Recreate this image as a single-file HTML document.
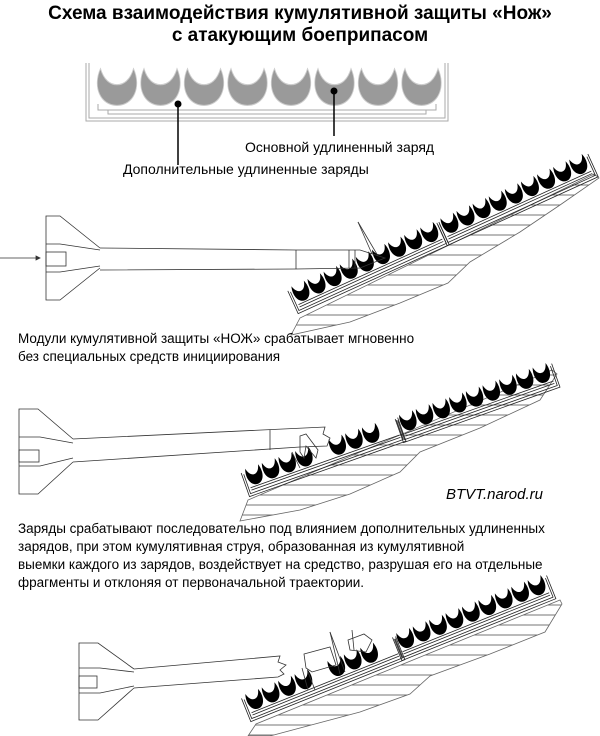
<!DOCTYPE html>
<html><head><meta charset="utf-8"><style>
html,body{margin:0;padding:0;background:#fff;}
svg{display:block;}
text{font-family:"Liberation Sans",sans-serif;fill:#000;}
</style></head><body>
<svg width="600" height="736" viewBox="0 0 600 736" xmlns="http://www.w3.org/2000/svg">
<defs>
<path id="c" d="M-10,-18 C-15,-10 -10,-2 0,-2 C10,-2 15,-10 10,-18 C8,-13 4,-11 0,-11 C-4,-11 -8,-13 -10,-18 Z"/>
<pattern id="h" width="12" height="10" patternUnits="userSpaceOnUse">
<line x1="0" y1="5" x2="12" y2="5" stroke="#666" stroke-width="0.9"/>
</pattern>
<g id="box" fill="none" stroke="#222" stroke-width="0.8">
<polyline points="-3,-18 -3,7 163,7 163,-18"/>
<polyline points="-1,-16 -1,4.5 161,4.5 161,-16"/>
<line x1="1" y1="1.5" x2="159" y2="1.5"/>
<line x1="1" y1="-1" x2="159" y2="-1"/>
</g>
<g id="cs"><use href="#c" transform="scale(0.68,1.15)"/></g>
<g id="m">
<use href="#box"/>
<g fill="#000">
<use href="#cs" x="9"/><use href="#cs" x="26.7"/><use href="#cs" x="44.4"/><use href="#cs" x="62.1"/><use href="#cs" x="79.8"/><use href="#cs" x="97.5"/><use href="#cs" x="115.2"/><use href="#cs" x="132.9"/><use href="#cs" x="150.6"/>
</g></g>
<g id="mp">
<use href="#box"/>
<g fill="#000">
<use href="#cs" x="9"/><use href="#cs" x="26.7"/><use href="#cs" x="44.4"/><use href="#cs" x="62.1"/><use href="#cs" x="97.5"/><use href="#cs" x="115.2"/><use href="#cs" x="132.9"/>
</g></g>
</defs>

<text x="300" y="19" font-size="19" font-weight="bold" text-anchor="middle">Схема взаимодействия кумулятивной защиты «Нож»</text>
<text x="300" y="41" font-size="19" font-weight="bold" text-anchor="middle">с атакующим боеприпасом</text>

<!-- Top module -->
<g fill="none" stroke="#aaa" stroke-width="1">
<polyline points="86,63 86,121 448,121 448,63"/>
<polyline points="89,63 89,118 445,118 445,63"/>
<polyline points="98,104 98,110 436,110 436,104"/>
<polyline points="108,110 108,114 426,114 426,110"/>
</g>
<g fill="#9a9a9a" stroke="#ccc" stroke-width="0.5">
<use href="#c" transform="translate(117,110) scale(1.65,2.3)"/>
<use href="#c" transform="translate(160.5,110) scale(1.65,2.3)"/>
<use href="#c" transform="translate(204,110) scale(1.65,2.3)"/>
<use href="#c" transform="translate(247.5,110) scale(1.65,2.3)"/>
<use href="#c" transform="translate(291,110) scale(1.65,2.3)"/>
<use href="#c" transform="translate(334.5,110) scale(1.65,2.3)"/>
<use href="#c" transform="translate(378,110) scale(1.65,2.3)"/>
<use href="#c" transform="translate(421.5,110) scale(1.65,2.3)"/>
</g>
<circle cx="178" cy="104" r="3.5" fill="#000"/>
<circle cx="334" cy="91" r="3.5" fill="#000"/>
<line x1="178" y1="104" x2="178" y2="165" stroke="#000" stroke-width="1.5"/>
<line x1="334" y1="91" x2="334" y2="136" stroke="#000" stroke-width="1.5"/>
<text x="245" y="152" font-size="14">Основной удлиненный заряд</text>
<text x="123" y="174" font-size="14">Дополнительные удлиненные заряды</text>

<!-- Diagram 1 -->
<path d="M291,335 L300,318 L594,174 L599,178 L560,205 L520,232 L470,262 L448,283 L400,303 L350,322 Z" fill="url(#h)" stroke="#666" stroke-width="0.8"/>
<use href="#m" transform="translate(298,306) rotate(-24.5)"/>
<use href="#m" transform="translate(447,238) rotate(-24.5)"/>
<g fill="none" stroke="#333" stroke-width="0.8">
<line x1="0" y1="258" x2="38" y2="258"/>
<polygon points="36,256 40,258 36,260" fill="#333"/>
<polyline points="100,248 60,216 46,216 46,300 60,300 100,268"/>
<polyline points="46,244 60,244 100,250"/>
<polyline points="46,272 60,272 100,266"/>
<rect x="46" y="252" width="20" height="14"/>
<path d="M100,248 L296,250 L360,250 L385,258 L360,268 L296,269 L100,270"/>
<line x1="296" y1="250" x2="296" y2="269"/>
<line x1="349" y1="250" x2="349" y2="268"/>
<line x1="355" y1="250" x2="355" y2="268"/>
<line x1="358" y1="222" x2="378" y2="256"/>
<line x1="358" y1="222" x2="372" y2="254"/>
</g>

<text x="18" y="343" font-size="13.5">Модули кумулятивной защиты «НОЖ» срабатывает мгновенно</text>
<text x="18" y="361" font-size="13.5">без специальных средств инициирования</text>

<!-- Diagram 2 -->
<path d="M240,521 L248,500 L552,370 L557,374 L540,400 L480,428 L420,452 L400,472 L350,494 L300,510 Z" fill="url(#h)" stroke="#666" stroke-width="0.8"/>
<use href="#mp" transform="translate(250,489) rotate(-19.5)"/>
<use href="#m" transform="translate(404,435) rotate(-19.5)"/>
<g fill="none" stroke="#333" stroke-width="0.8">
<polyline points="73,439 38,409 19,409 19,494 38,494 73,462"/>
<polyline points="19,437 40,437 73,443"/>
<polyline points="19,466 40,466 73,458"/>
<rect x="19" y="450" width="20" height="12"/>
<path d="M73,439 L325,427 L323,434 L330,438 L327,446 L300,447 L73,462"/>
<line x1="270" y1="430" x2="270" y2="450"/>
<path d="M300,436 L306,434 L318,450 L316,458 L306,446 L304,458 L300,452 Z"/>
<line x1="292" y1="452" x2="300" y2="468"/>
</g>
<text x="446" y="499" font-size="15" font-style="italic">BTVT.narod.ru</text>

<text x="18" y="533" font-size="13.5">Заряды срабатывают последовательно под влиянием дополнительных удлиненных</text>
<text x="18" y="551" font-size="13.5">зарядов, при этом кумулятивная струя, образованная из кумулятивной</text>
<text x="18" y="569" font-size="13.5">выемки каждого из зарядов, воздействует на средство, разрушая его на отдельные</text>
<text x="18" y="587" font-size="13.5">фрагменты и отклоняя от первоначальной траектории.</text>

<!-- Diagram 3 -->
<path d="M248,736 L256,724 L560,600 L562,604 L545,632 L490,654 L430,676 L410,694 L360,712 L300,728 L270,736 Z" fill="url(#h)" stroke="#666" stroke-width="0.8"/>
<use href="#mp" transform="translate(251,714) rotate(-21.9)"/>
<use href="#m" transform="translate(402,653) rotate(-21.9)"/>
<g fill="none" stroke="#333" stroke-width="0.8">
<polyline points="134,669 98,643 79,643 79,720 98,720 134,688"/>
<polyline points="79,668 100,668 134,672"/>
<polyline points="79,693 100,693 134,686"/>
<rect x="79" y="676" width="18" height="12"/>
<path d="M134,669 L280,656 L278,662 L286,665 L280,670 L284,674 L278,677 L134,688"/>
<polygon points="304,654 330,647 336,665 312,672 306,668"/>
<polygon points="348,640 364,634 372,640 366,652 350,650"/>
<line x1="330" y1="632" x2="345" y2="672"/>
<line x1="330" y1="632" x2="340" y2="674"/>
<line x1="352" y1="630" x2="354" y2="650"/>
<line x1="302" y1="668" x2="308" y2="690"/>
<line x1="308" y1="672" x2="315" y2="690"/>
</g>
</svg>
</body></html>
